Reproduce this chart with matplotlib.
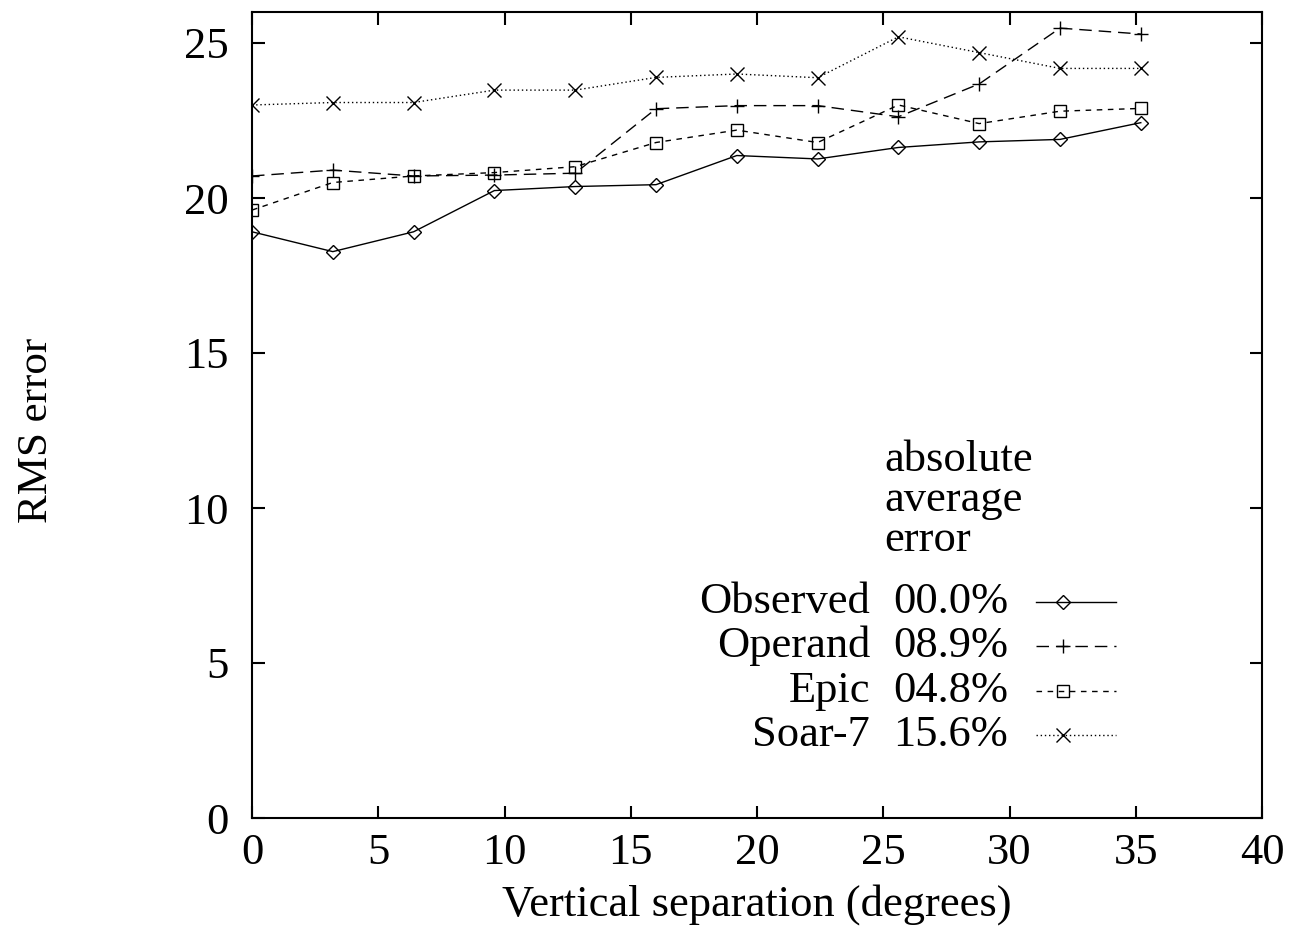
import matplotlib
matplotlib.use("Agg")
import matplotlib.pyplot as plt

# ======================
# DATA
# ======================
separation = [0, 3.2, 6.4, 9.6, 12.8, 16, 19.2, 22.4, 25.6, 28.8, 32, 35.2]
observed = [18.91, 18.27, 18.91, 20.24, 20.37, 20.43, 21.37, 21.26, 21.63, 21.81, 21.89, 22.43]
operand  = [20.71, 20.90, 20.71, 20.74, 20.80, 22.88, 22.98, 22.98, 22.62, 23.68, 25.48, 25.29]
epic     = [19.61, 20.50, 20.71, 20.82, 21.01, 21.79, 22.19, 21.79, 23.00, 22.40, 22.80, 22.89]
soar7    = [23.00, 23.08, 23.08, 23.48, 23.48, 23.89, 24.00, 23.88, 25.20, 24.69, 24.18, 24.18]

names    = ["Observed", "Operand", "Epic", "Soar-7"]
errors   = ["00.0%", "08.9%", "04.8%", "15.6%"]
key_title = ["absolute", "average", "error"]

xticks = [0, 5, 10, 15, 20, 25, 30, 35, 40]
yticks = [0, 5, 10, 15, 20, 25]

# ======================
# STYLE
# ======================
plt.rcParams["font.family"] = ["Liberation Serif", "DejaVu Serif"]
FS = 32

styles = [
    dict(linestyle="-", marker="D", markersize=7),
    dict(linestyle=(0, (9, 5)), marker="+", markersize=9.5),
    dict(linestyle=(0, (4, 4)), marker="s", markersize=9),
    dict(linestyle=(0, (1, 2)), marker="x", markersize=9.5),
]
series = [observed, operand, epic, soar7]

fig = plt.figure(figsize=(12.96, 9.35), dpi=100)
ax = fig.add_axes([252 / 1296, 1 - 818 / 935, 1010 / 1296, 806 / 935])

for vals, st in zip(series, styles):
    ax.plot(separation, vals, color="black", linewidth=1.0,
            markerfacecolor="none", markeredgewidth=1.0, **st)

ax.set_xlim(0, 40)
ax.set_ylim(0, 26)
ax.set_xticks(xticks)
ax.set_yticks(yticks)
ax.tick_params(direction="in", length=9, width=1.5, top=True, right=True,
               labelsize=FS)
ax.tick_params(axis="y", pad=17)
ax.tick_params(axis="x", pad=11)
for sp in ax.spines.values():
    sp.set_linewidth(1.5)

ax.set_xlabel("Vertical separation (degrees)", fontsize=FS)
ax.xaxis.set_label_coords(0.5, -0.082)
ax.set_ylabel("RMS error", fontsize=FS - 1)
ax.yaxis.set_label_coords(-0.194, 0.481)

# ======================
# KEY (gnuplot style)
# ======================
title_y = [0.444, 0.3945, 0.345]
for t, ty in zip(key_title, title_y):
    ax.text(0.626, ty, t, transform=ax.transAxes, fontsize=FS,
            ha="left", va="center")

row_y = [0.268, 0.2134, 0.1576, 0.103]
for name, err, st, ry in zip(names, errors, styles, row_y):
    ax.text(0.612, ry, name, transform=ax.transAxes, fontsize=FS,
            ha="right", va="center")
    ax.text(0.635, ry, err, transform=ax.transAxes, fontsize=FS,
            ha="left", va="center")
    ax.plot([0.776, 0.855], [ry, ry], transform=ax.transAxes, color="black",
            linewidth=1.0, linestyle=st["linestyle"], clip_on=False)
    ax.plot([0.803], [ry], transform=ax.transAxes, color="black",
            linestyle="none", marker=st["marker"], markersize=st["markersize"],
            markerfacecolor="none", markeredgewidth=1.0, clip_on=False)

fig.savefig("out.png", dpi=100)
